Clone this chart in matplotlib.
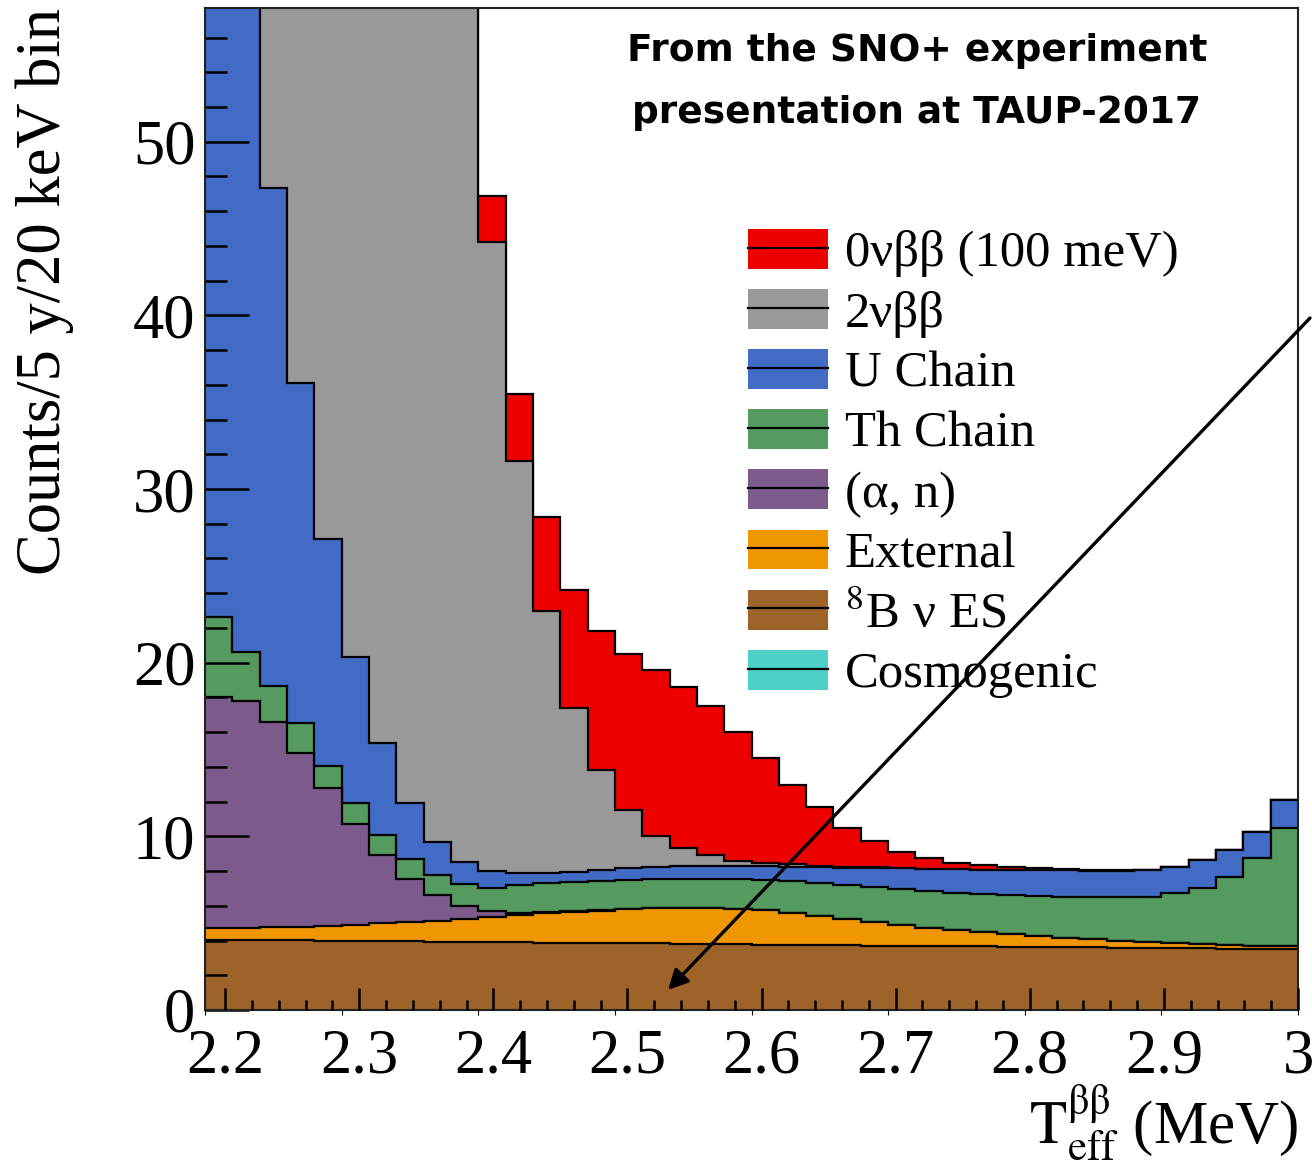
import numpy as np
import matplotlib.pyplot as plt
from matplotlib.patches import Patch
from matplotlib.lines import Line2D
from matplotlib.legend_handler import HandlerTuple
from matplotlib.ticker import MultipleLocator

plt.rcParams['font.family'] = ['Liberation Serif', 'DejaVu Serif']
plt.rcParams['mathtext.fontset'] = 'stix'

# 40 bins of 20 keV from 2.2 to 3.0 MeV, counts for 5 years
e_min, e_width, n_bins = 2.2, 0.02, 40

b8_es = [4.05, 4.04, 4.02, 4.01, 3.99, 3.98, 3.97, 3.95, 3.94, 3.92,
         3.91, 3.90, 3.88, 3.87, 3.85, 3.84, 3.83, 3.81, 3.80, 3.78,
         3.77, 3.76, 3.74, 3.73, 3.71, 3.70, 3.69, 3.67, 3.66, 3.64,
         3.63, 3.62, 3.60, 3.59, 3.57, 3.56, 3.55, 3.53, 3.52, 3.50]
external = [0.67, 0.68, 0.74, 0.79, 0.87, 0.94, 1.03, 1.11, 1.19, 1.32,
            1.42, 1.58, 1.72, 1.79, 1.87, 1.96, 2.03, 2.07, 2.06, 2.04,
            1.99, 1.84, 1.68, 1.49, 1.33, 1.18, 1.05, 0.93, 0.82, 0.72,
            0.63, 0.54, 0.46, 0.39, 0.33, 0.28, 0.23, 0.21, 0.19, 0.19]
alpha_n = [13.3, 13.1, 11.8, 10.0, 7.9, 5.8, 3.9, 2.5, 1.5, 0.76,
           0.37, 0.12, 0.06, 0.04, 0.03, 0.02, 0.02, 0.01, 0.01, 0.01,
           0.01, 0.01, 0.0, 0.0, 0.0, 0.0, 0.0, 0.0, 0.0, 0.0,
           0.0, 0.0, 0.0, 0.0, 0.0, 0.0, 0.0, 0.0, 0.0, 0.0]
th_chain = [4.6, 2.8, 2.1, 1.7, 1.29, 1.18, 1.2, 1.14, 1.17, 1.26,
            1.35, 1.6, 1.64, 1.65, 1.7, 1.68, 1.67, 1.66, 1.68, 1.69,
            1.73, 1.79, 1.88, 1.98, 2.04, 2.09, 2.12, 2.16, 2.2, 2.24,
            2.29, 2.34, 2.42, 2.5, 2.6, 2.9, 3.25, 3.92, 5.05, 6.81]
u_chain = [52.4, 41.4, 28.7, 19.6, 13.05, 8.4, 5.3, 3.2, 1.9, 1.29,
           0.95, 0.7, 0.6, 0.6, 0.6, 0.65, 0.67, 0.73, 0.75, 0.78,
           0.78, 0.85, 0.92, 1.0, 1.1, 1.18, 1.26, 1.34, 1.4, 1.46,
           1.5, 1.54, 1.55, 1.55, 1.54, 1.5, 1.61, 1.54, 1.49, 1.6]
two_nu = [160, 140, 120, 105, 92, 82, 75, 68, 62, 54,
          36.2, 23.7, 15.1, 9.45, 5.75, 3.35, 1.78, 1.02, 0.6, 0.3,
          0.17, 0.13, 0.08, 0.05, 0.03, 0.02, 0.01, 0.0, 0.0, 0.0,
          0.0, 0.0, 0.0, 0.0, 0.0, 0.0, 0.0, 0.0, 0.0, 0.0]
zero_nu = [0.1, 0.15, 0.2, 0.3, 0.45, 0.65, 0.9, 1.2, 1.6, 2.1,
           2.7, 3.9, 5.4, 6.8, 8.0, 9.0, 9.6, 9.3, 8.6, 7.4,
           6.05, 4.6, 3.4, 2.25, 1.5, 0.95, 0.6, 0.37, 0.25, 0.15,
           0.1, 0.06, 0.04, 0.02, 0.01, 0.01, 0.01, 0.01, 0.01, 0.01]

# stacking order, bottom to top
stack = [b8_es, external, alpha_n, th_chain, u_chain, two_nu, zero_nu]
stack_colors = ['#9E6328', '#F09600', '#7D5A8C', '#559B5F', '#416BC4', '#999999', '#EE0000']

legend_labels = ['0νββ (100 meV)', '2νββ', 'U Chain', 'Th Chain',
                 '(α, n)', 'External', r'$^{8}$B ν ES', 'Cosmogenic']
legend_colors = ['#EE0000', '#999999', '#416BC4', '#559B5F',
                 '#7D5A8C', '#F09600', '#9E6328', '#4ECFC8']

x_ticks = [2.2, 2.3, 2.4, 2.5, 2.6, 2.7, 2.8, 2.9, 3.0]
x_tick_labels = ['2.2', '2.3', '2.4', '2.5', '2.6', '2.7', '2.8', '2.9', '3']
y_ticks = [0, 10, 20, 30, 40, 50]

edges = e_min + e_width * np.arange(n_bins + 1)
cum = np.cumsum(np.array(stack, dtype=float), axis=0)

fig = plt.figure(figsize=(13.12, 11.64), dpi=100)
ax = fig.add_axes([205 / 1312, 1 - 1010 / 1164, 1093 / 1312, 1002 / 1164])

# draw like a THStack: total first, each lower sum painted over it
for i in reversed(range(len(stack))):
    ax.stairs(cum[i], edges, baseline=0, fill=True, facecolor=stack_colors[i], lw=0)
    ax.stairs(cum[i], edges, baseline=None, color='black', lw=1.6)

ax.set_xlim(e_min, edges[-1])
ax.set_ylim(0, 57.7)
ax.tick_params(axis='x', bottom=False, labelbottom=False)
ax.set_yticks(y_ticks)
ax.yaxis.set_minor_locator(MultipleLocator(2))
ax.tick_params(axis='y', which='major', direction='in', length=31.7, width=1.8,
               labelsize=45, pad=7)
ax.tick_params(axis='y', which='minor', direction='in', length=15.8, width=1.8)
for s in ax.spines.values():
    s.set_linewidth(1.5)
    s.set_color('#222222')

ax.set_ylabel('Counts/5 y/20 keV bin', fontsize=45, loc='top')
ax.yaxis.set_label_coords(-0.12, 1.0)

# energy axis drawn on its own scale
axe = ax.twiny()
axe.set_xlim(2.185, 3.0)
axe.xaxis.set_ticks_position('bottom')
axe.xaxis.set_label_position('bottom')
axe.set_xticks(x_ticks)
axe.set_xticklabels(x_tick_labels)
axe.xaxis.set_minor_locator(MultipleLocator(0.02))
axe.tick_params(axis='x', which='major', direction='in', length=15.8, width=1.8,
                labelsize=45, pad=13)
axe.tick_params(axis='x', which='minor', direction='in', length=7.2, width=1.8)
for s in axe.spines.values():
    s.set_visible(False)
axe.set_xlabel(r'$\mathrm{T}_{\mathrm{eff}}^{\mathrm{ββ}}$ (MeV)', fontsize=44,
               loc='right', labelpad=-2)

handles = [(Patch(facecolor=c, edgecolor='none'), Line2D([0], [0], color='black', lw=1.6))
           for c in legend_colors]
ax.legend(handles, legend_labels, handler_map={tuple: HandlerTuple(ndivide=1)},
          loc='upper left', bbox_to_anchor=(748 / 1312, 1 - 229 / 1164),
          bbox_transform=fig.transFigure, frameon=False, borderpad=0, borderaxespad=0,
          fontsize=36.5, handlelength=1.58, handleheight=0.83, handletextpad=0.33,
          labelspacing=0.23)

fig.text(917 / 1312, 1 - 82 / 1164, 'From the SNO+ experiment\npresentation at TAUP-2017',
         ha='center', va='center', fontsize=27, fontweight='bold',
         family='DejaVu Sans', linespacing=1.9)

ax.annotate('', xy=((668 - 205) / 1093, (1010 - 990) / 1002), xycoords='axes fraction',
            xytext=(1310 / 1312, 1 - 318 / 1164), textcoords='figure fraction',
            arrowprops=dict(arrowstyle='-|>', lw=2.4, color='black', mutation_scale=30,
                            shrinkA=0, shrinkB=0),
            annotation_clip=False, zorder=10)

fig.savefig('out.png', dpi=100)
